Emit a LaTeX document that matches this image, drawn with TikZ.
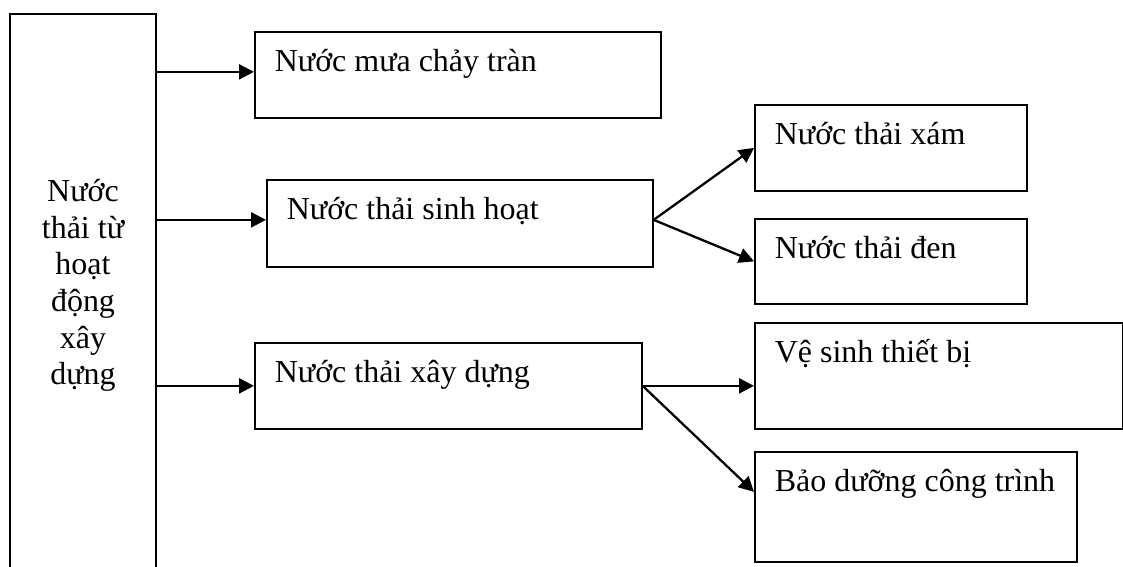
\documentclass[tikz,border=0pt]{standalone}
\usepackage{fontspec}
\setmainfont{Liberation Serif}
\usepackage{tikz}
\usetikzlibrary{arrows.meta}
\usetikzlibrary{positioning}

\begin{document}
\begin{tikzpicture}[x=0.02cm, y=-0.02cm,
        box/.style={draw, line width=1pt, anchor=north west, inner xsep=0.4cm, inner ysep=0pt,
            text height=0.8cm, align=flush left, font=\fontsize{18.2}{20.8}\selectfont},
        arr/.style={-{Triangle[length=0.3cm,width=0.3cm]}, line width=1.3pt}]
        \useasboundingbox (0,0) rectangle (1123,567);

        % source box, runs off the bottom
        \node[box, anchor=north, align=flush center, inner xsep=0pt, text width=2.92cm,
            text height=3.76cm, text depth=7.98cm] (nt) at (83,13)
            {Nước\\thải từ\\hoạt\\động\\xây\\dựng};

        \node[box, text width=7.32cm, text depth=0.92cm] (mua) at (254,31) {Nước mưa chảy tràn};
        \node[box, text width=6.92cm, text depth=0.94cm] (sh) at (266,179) {Nước thải sinh hoạt};
        \node[box, text width=6.94cm, text depth=0.92cm] (xd) at (254,342) {Nước thải xây dựng};

        \node[box, text width=4.64cm, text depth=0.92cm] (xam) at (754,104) {Nước thải xám};
        \node[box, text width=4.64cm, text depth=0.90cm] (den) at (754,218) {Nước thải đen};
        \node[box, text width=6.56cm, text depth=1.32cm] (vs) at (754,322) {Vệ sinh thiết bị};
        \node[box, text width=5.64cm, text depth=1.40cm] (bd) at (754,451) {Bảo dưỡng công trình};

        \draw[arr] (nt.east |- mua.base west) -- (mua.base west);
        \draw[arr] (nt.east |- sh.base west) -- (sh.base west);
        \draw[arr] (nt.east |- xd.west) -- (xd.west);

        \draw[arr] (sh.base east) -- (xam.west);
        \draw[arr] (sh.base east) -- (den.west);

        \draw[arr] (xd.east) -- (xd.east -| vs.west);
        \draw[arr] (xd.east) -- (bd.base west);
\end{tikzpicture}
\end{document}
